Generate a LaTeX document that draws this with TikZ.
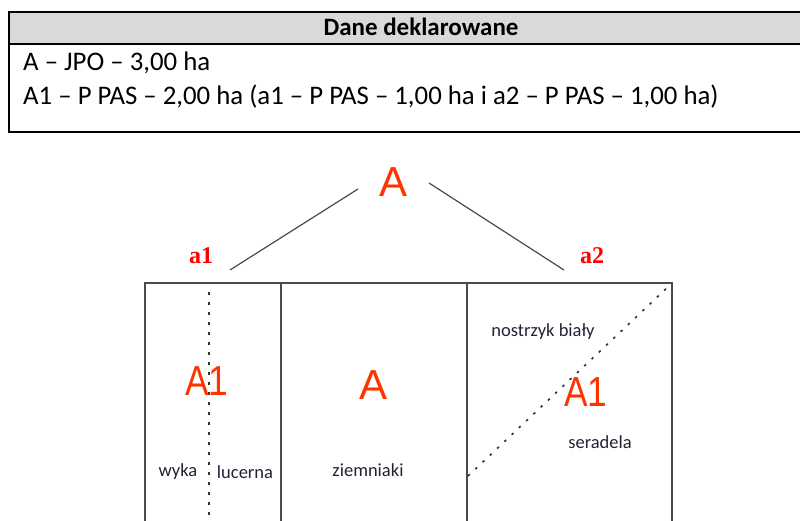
\documentclass[tikz,border=0pt]{standalone}
\usepackage{fontspec}
\setmainfont{Carlito}
\newfontfamily\arialf{Liberation Sans}
\newfontfamily\serifbf{Liberation Serif}
\definecolor{hdrgray}{HTML}{D9D9D9}
\definecolor{linegray}{HTML}{4A4A4A}
\definecolor{bigred}{HTML}{FF3300}
\definecolor{txtdark}{HTML}{222233}
\begin{document}
\begin{tikzpicture}[x=1pt,y=-1pt,
  tbl/.style={draw=black,line width=2pt},
  rowtext/.style={anchor=base west,inner sep=0,font=\fontsize{26.8}{30}\selectfont},
  hdrtext/.style={anchor=base,inner sep=0,font=\fontsize{25}{28}\selectfont\bfseries},
  bigletter/.style={inner sep=0,text=bigred,font=\arialf\fontsize{42}{45}\selectfont},
  smalllabel/.style={inner sep=0,text=red,font=\serifbf\bfseries\fontsize{24}{27}\selectfont},
  croptext/.style={inner sep=0,text=txtdark,font=\fontsize{18.5}{21}\selectfont},
  field/.style={draw=linegray,line width=1.8pt},
  branch/.style={draw=linegray,line width=1.2pt},
  dotline/.style={draw=black!80,line width=1.6pt,dash pattern=on 2.5pt off 7.5pt}]
\useasboundingbox (0,0) rectangle (800,520);
\clip (0,0) rectangle (800,520);
% table
\fill[hdrgray] (9,12) rectangle (840,44);
\draw[tbl] (9,12) rectangle (840,132);
\draw[tbl] (9,44) -- (840,44);
\node[hdrtext] (hdr) at (421,35) {Dane deklarowane};
\node[rowtext] (row1) at (23,70) {A – JPO – 3,00 ha};
\node[rowtext] (row2) at (23,104) {A1 – P PAS – 2,00 ha (a1 – P PAS – 1,00 ha i a2 – P PAS – 1,00 ha)};
% tree
\node[bigletter] (topA) at (394,182) {A};
\node[smalllabel] (a1) at (201,256) {a1};
\node[smalllabel] (a2) at (592,256) {a2};
\coordinate (l1) at (230,270);
\coordinate (l2) at (358,189);
\coordinate (r1) at (429,183);
\coordinate (r2) at (564,270);
\draw[branch] (l1) -- (l2);
\draw[branch] (r1) -- (r2);
% field
\coordinate (fTL) at (145,283);
\coordinate (fBR) at (672,560);
\draw[field] (fTL) rectangle (fBR);
\coordinate (v1t) at (281,283);
\coordinate (v1b) at (281,560);
\coordinate (v2t) at (467,283);
\coordinate (v2b) at (467,560);
\draw[field] (v1t) -- (v1b);
\draw[field] (v2t) -- (v2b);
\coordinate (d1t) at (209,292);
\coordinate (d1b) at (209,525);
\draw[dotline] (d1t) -- (d1b);
\coordinate (d2a) at (468,476);
\coordinate (d2b) at (670,285);
\draw[dotline] (d2a) -- (d2b);
% labels in field
\node[bigletter] (A1left) at (207,381) {\scalebox{0.84}[1]{A1}};
\node[bigletter] (Amid) at (374,385) {A};
\node[bigletter] (A1right) at (586,392) {\scalebox{0.84}[1]{A1}};
\node[croptext] (wyka) at (178,472) {wyka};
\node[croptext] (lucerna) at (245,472) {lucerna};
\node[croptext] (ziemniaki) at (368,470) {ziemniaki};
\node[croptext] (nostrzyk) at (543,332) {nostrzyk biały};
\node[croptext] (seradela) at (600,442) {seradela};
\end{tikzpicture}
\end{document}
